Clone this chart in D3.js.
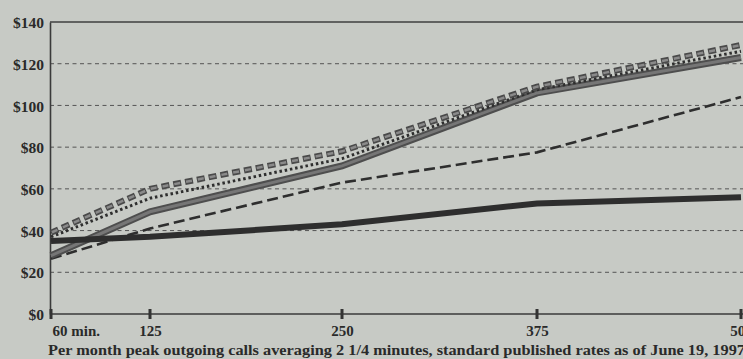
<!DOCTYPE html>
<html>
<head>
<meta charset="utf-8">
<script src="https://cdn.jsdelivr.net/npm/d3@7"></script>
<style>
  html, body { margin: 0; padding: 0; background: #c7cac5; }
  svg { display: block; }
  text { font-family: "Liberation Serif", "DejaVu Serif", serif; fill: #2a2a2a; }
</style>
</head>
<body>
<svg id="chart" width="743" height="359"></svg>
<script>
// ---- data ----
const minutes = [60, 125, 250, 375, 500];
const minuteLabels = ["60 min.", "125", "250", "375", "500"];
const yTicks = [0, 20, 40, 60, 80, 100, 120, 140];

const thickDark   = [35, 37, 43, 53, 56];
const thickGray   = [28, 49, 71, 106, 123];
const dotted      = [37, 55.5, 74.5, 107.5, 126];
const grayDashed  = [39, 60, 78, 109, 129];
const thinDashed  = [26.5, 41, 63, 77.5, 104];

const caption = "Per month peak outgoing calls averaging 2 1/4 minutes, standard published rates as of June 19, 1997";

// ---- layout ----
(function () {
const svg = d3.select("#chart");
const W = 743, H = 359;
const mLeft = 50, mTop = 22, mBottom = 314;

const x = d3.scaleLinear().domain(minutes).range([51, 150, 342, 537, 741]);
const y = d3.scaleLinear().domain([0, 140]).range([mBottom, mTop]);

svg.append("rect").attr("width", W).attr("height", H).attr("fill", "#c7cac5");

// gridlines
svg.append("g").selectAll("line")
  .data(yTicks.filter(d => d > 0))
  .join("line")
  .attr("x1", mLeft).attr("x2", W)
  .attr("y1", d => y(d)).attr("y2", d => y(d))
  .attr("stroke", d => d === 140 ? "#3f3f3f" : "#555")
  .attr("stroke-width", d => d === 140 ? 1.6 : 1)
  .attr("stroke-dasharray", d => d === 140 ? null : "4 3.5");

// y axis
const yAxis = svg.append("g")
  .attr("transform", `translate(${mLeft},0)`)
  .call(d3.axisLeft(y).tickValues(yTicks).tickFormat(d => "$" + d).tickSize(0).tickPadding(6));
yAxis.select(".domain").attr("stroke", "#3a3a3a").attr("stroke-width", 1.6);
yAxis.selectAll("text")
  .attr("font-size", 15.5).attr("font-weight", "bold")
  .attr("font-family", "Liberation Serif, serif").attr("fill", "#2a2a2a")
  .attr("dy", "0.36em");

// x axis
const xAxis = svg.append("g")
  .attr("transform", `translate(0,${mBottom})`)
  .call(d3.axisBottom(x).tickValues(minutes).tickFormat((d, i) => minuteLabels[i]).tickSize(0).tickPadding(10));
xAxis.select(".domain").attr("stroke", "#3a3a3a").attr("stroke-width", 1.6).attr("d", `M${mLeft},0H${W}`);
xAxis.selectAll("text")
  .attr("font-size", 15).attr("font-weight", "bold")
  .attr("font-family", "Liberation Serif, serif").attr("fill", "#2a2a2a")
  .attr("y", 11).attr("dy", "0.71em")
  .attr("text-anchor", (d, i) => i === 0 ? "start" : "middle");
xAxis.selectAll(".tick text").filter((d, i) => i === 0).attr("x", 1);

// tick marks
svg.append("g").selectAll("rect")
  .data(minutes)
  .join("rect")
  .attr("x", d => x(d) - 1.5).attr("y", mBottom - 5)
  .attr("width", 3).attr("height", 10)
  .attr("fill", "#333");

// caption
svg.append("text")
  .attr("x", 48).attr("y", 355)
  .attr("font-size", 15).attr("font-weight", "bold")
  .attr("textLength", 697).attr("lengthAdjust", "spacingAndGlyphs")
  .text(caption);

// ---- lines ----
const line = vals => d3.line().x((d, i) => x(minutes[i])).y(d => y(d))(vals);
const g = svg.append("g").attr("fill", "none");

// thin dashed
g.append("path").attr("d", line(thinDashed))
  .attr("stroke", "#2e2e2e").attr("stroke-width", 2.6).attr("stroke-dasharray", "11 5");

// thick gray solid
g.append("path").attr("d", line(thickGray))
  .attr("stroke", "#4e4e4e").attr("stroke-width", 7);
g.append("path").attr("d", line(thickGray))
  .attr("stroke", "#767676").attr("stroke-width", 3);

// thick dark solid
g.append("path").attr("d", line(thickDark))
  .attr("stroke", "#2e2e2e").attr("stroke-width", 6);

// dotted
g.append("path").attr("d", line(dotted))
  .attr("stroke", "#2e2e2e").attr("stroke-width", 3).attr("stroke-dasharray", "2.5 2.8");

// gray box dashes
g.append("path").attr("d", line(grayDashed))
  .attr("stroke", "#4a4a4a").attr("stroke-width", 6).attr("stroke-dasharray", "8 4");
g.append("path").attr("d", line(grayDashed))
  .attr("stroke", "#8a8a8a").attr("stroke-width", 2.5).attr("stroke-dasharray", "6 6")
  .attr("stroke-dashoffset", -1);
})();
</script>
</body>
</html>
